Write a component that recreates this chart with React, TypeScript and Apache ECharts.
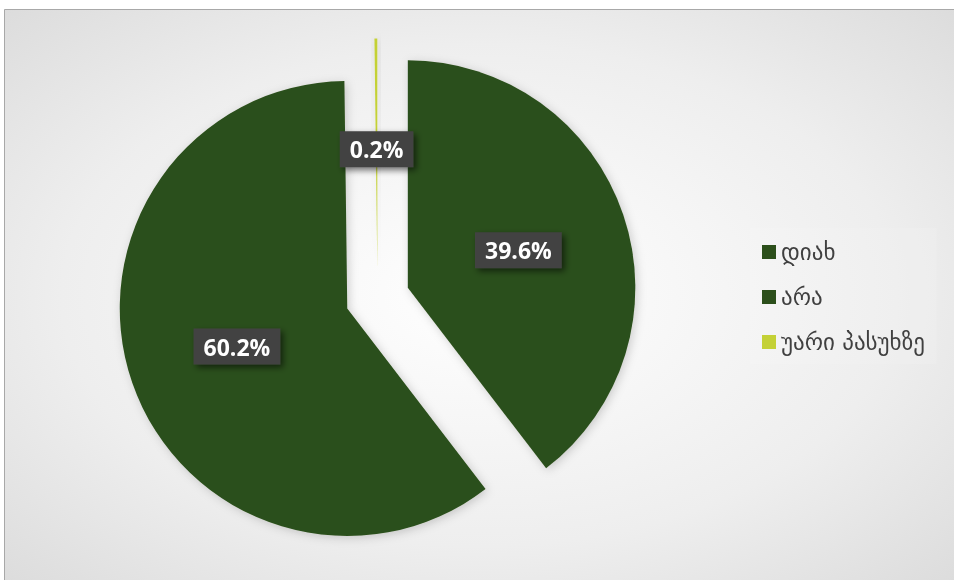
import React, { useEffect, useRef } from "react";
import * as echarts from "echarts";

const categories = ["დიახ", "არა", "უარი პასუხზე"];
const values = [39.6, 60.2, 0.2];
const colors = ["#2c4f1b", "#2c4f1b", "#c4d136"];

export default function App() {
  const ref = useRef<HTMLDivElement>(null);
  useEffect(() => {
    const chart = echarts.init(ref.current!, null, { renderer: "svg" });
    chart.setOption({
      animation: false,
      backgroundColor: "transparent",
      graphic: [
        {
          type: "rect",
          z: -10,
          silent: true,
          shape: { x: 4.5, y: 9.5, width: 950, height: 571 },
          style: {
            fill: {
              type: "radial",
              x: 0.5,
              y: 0.5,
              r: 1,
              colorStops: [
                { offset: 0, color: "#ffffff" },
                { offset: 0.44, color: "#eeeeee" },
                { offset: 0.83, color: "#d4d4d4" },
                { offset: 1, color: "#c4c4c4" },
              ],
            },
            stroke: "#a8a8a8",
            lineWidth: 1,
          },
        },
      ],
      legend: {
        orient: "vertical",
        left: 750,
        top: 228,
        padding: [12, 12, 10, 12],
        backgroundColor: "rgba(255,255,255,0.1)",
        itemWidth: 14,
        itemHeight: 14,
        itemGap: 21,
        icon: "rect",
        selectedMode: false,
        data: categories,
        textStyle: {
          fontFamily: "DejaVu Sans",
          fontSize: 23,
          lineHeight: 24,
          color: "#404040",
        },
      },
      series: [
        {
          type: "pie",
          center: [377.5, 298],
          radius: 227.5,
          startAngle: 90,
          clockwise: true,
          selectedMode: "multiple",
          selectedOffset: 32,
          avoidLabelOverlap: false,
          minAngle: 0,
          emphasis: { disabled: true },
          labelLine: { show: false },
          itemStyle: {
            shadowBlur: 10,
            shadowColor: "rgba(0,0,0,0.18)",
            shadowOffsetX: 2,
            shadowOffsetY: 2,
          },
          label: {
            show: true,
            position: "inside",
            formatter: "{c}%",
            color: "#ffffff",
            fontFamily: "Open Sans",
            fontWeight: "bold",
            fontSize: 23,
            backgroundColor: "#424242",
            padding: [7, 10, 6, 10],
            shadowColor: "rgba(0,0,0,0.55)",
            shadowBlur: 6,
            shadowOffsetX: 3,
            shadowOffsetY: 3,
          },
          data: categories.map((name, i) => ({
            name,
            value: values[i],
            selected: true,
            itemStyle: { color: colors[i] },
            select: { itemStyle: { color: colors[i] } },
          })),
        },
      ],
    });
    return () => chart.dispose();
  }, []);
  return (
    <div
      ref={ref}
      style={{ position: "fixed", left: 0, top: 0, width: 954, height: 580 }}
    />
  );
}
